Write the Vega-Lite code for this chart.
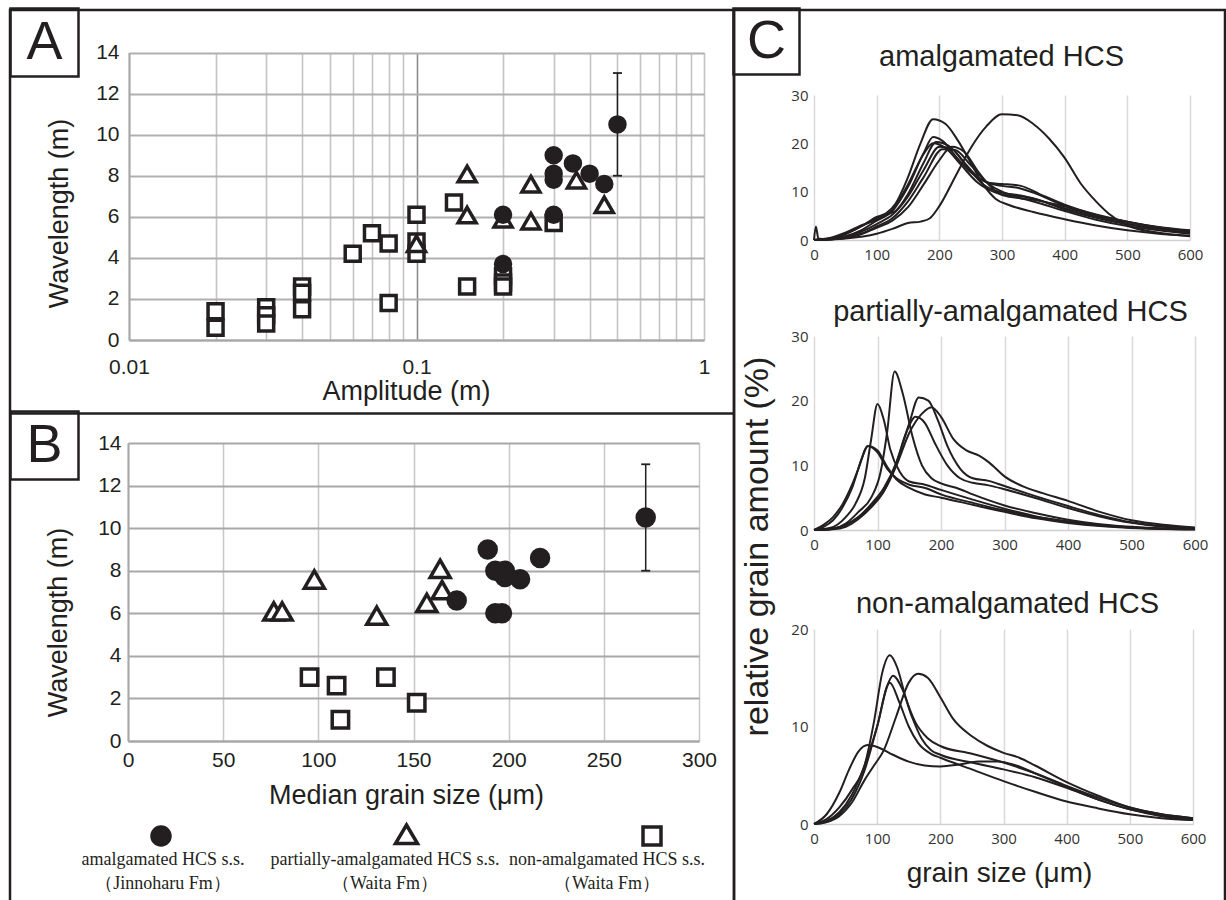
{
  "$schema": "https://vega.github.io/schema/vega-lite/v6.json",
  "background": "white",
  "padding": {"left": 3, "top": 5, "right": 0, "bottom": 0},
  "spacing": 0,
  "bounds": "flush",
  "resolve": {"scale": {"shape": "independent", "fill": "independent"}},
  "config": {
    "view": {"stroke": "#231f20", "strokeWidth": 2.5},
    "font": "Liberation Sans",
    "axis": {"labelFont": "Liberation Sans", "titleFont": "Liberation Sans", "titleFontWeight": "normal", "labelColor": "#231f20", "titleColor": "#231f20", "ticks": false, "labelFlush": false, "labelOverlap": false, "labelBound": false, "grid": false, "domain": false}
  },
  "datasets": {
    "ptsA": [
      {"amp":0.02,"wl":1.4,"type":"non"},{"amp":0.02,"wl":0.6,"type":"non"},{"amp":0.03,"wl":1.6,"type":"non"},{"amp":0.03,"wl":1.2,"type":"non"},{"amp":0.03,"wl":0.8,"type":"non"},{"amp":0.04,"wl":2.6,"type":"non"},{"amp":0.04,"wl":2.3,"type":"non"},{"amp":0.04,"wl":1.5,"type":"non"},{"amp":0.06,"wl":4.2,"type":"non"},{"amp":0.07,"wl":5.2,"type":"non"},{"amp":0.08,"wl":4.7,"type":"non"},{"amp":0.08,"wl":1.8,"type":"non"},{"amp":0.1,"wl":6.1,"type":"non"},{"amp":0.1,"wl":4.8,"type":"non"},{"amp":0.1,"wl":4.2,"type":"non"},{"amp":0.135,"wl":6.7,"type":"non"},{"amp":0.15,"wl":2.6,"type":"non"},{"amp":0.2,"wl":3.1,"type":"non"},{"amp":0.2,"wl":2.8,"type":"non"},{"amp":0.2,"wl":2.6,"type":"non"},{"amp":0.3,"wl":5.7,"type":"non"},
      {"amp":0.1,"wl":4.6,"type":"partially"},{"amp":0.15,"wl":8.0,"type":"partially"},{"amp":0.15,"wl":6.0,"type":"partially"},{"amp":0.2,"wl":5.8,"type":"partially"},{"amp":0.25,"wl":7.5,"type":"partially"},{"amp":0.25,"wl":5.7,"type":"partially"},{"amp":0.36,"wl":7.7,"type":"partially"},{"amp":0.45,"wl":6.5,"type":"partially"},
      {"amp":0.2,"wl":6.1,"type":"amalgamated"},{"amp":0.2,"wl":3.7,"type":"amalgamated"},{"amp":0.3,"wl":9.0,"type":"amalgamated"},{"amp":0.3,"wl":8.1,"type":"amalgamated"},{"amp":0.3,"wl":7.8,"type":"amalgamated"},{"amp":0.3,"wl":6.1,"type":"amalgamated"},{"amp":0.35,"wl":8.6,"type":"amalgamated"},{"amp":0.4,"wl":8.1,"type":"amalgamated"},{"amp":0.45,"wl":7.6,"type":"amalgamated"},{"amp":0.5,"wl":10.5,"type":"amalgamated"}
    ],
    "ptsB": [
      {"gs":95.4,"wl":3.0,"type":"non"},{"gs":109.6,"wl":2.6,"type":"non"},{"gs":111.6,"wl":1.0,"type":"non"},{"gs":135.5,"wl":3.0,"type":"non"},{"gs":151.7,"wl":1.8,"type":"non"},
      {"gs":76.6,"wl":6.0,"type":"partially"},{"gs":81,"wl":6.0,"type":"partially"},{"gs":97.9,"wl":7.5,"type":"partially"},{"gs":130.7,"wl":5.8,"type":"partially"},{"gs":157,"wl":6.4,"type":"partially"},{"gs":164,"wl":8.0,"type":"partially"},{"gs":165,"wl":7.0,"type":"partially"},
      {"gs":172.7,"wl":6.6,"type":"amalgamated"},{"gs":189,"wl":9.0,"type":"amalgamated"},{"gs":193,"wl":8.0,"type":"amalgamated"},{"gs":198,"wl":8.0,"type":"amalgamated"},{"gs":198,"wl":7.7,"type":"amalgamated"},{"gs":206,"wl":7.6,"type":"amalgamated"},{"gs":216.5,"wl":8.6,"type":"amalgamated"},{"gs":193,"wl":6.0,"type":"amalgamated"},{"gs":196.5,"wl":6.0,"type":"amalgamated"},{"gs":272,"wl":10.5,"type":"amalgamated"}
    ],
    "errA": [{"amp": 0.5, "lo": 8, "hi": 13}],
    "errB": [{"gs": 272, "lo": 8, "hi": 13}],
    "legend": [
      {"type":"amalgamated","label":"amalgamated HCS s.s.\n（Jinnoharu Fm）"},
      {"type":"partially","label":"partially-amalgamated HCS s.s.\n（Waita Fm）"},
      {"type":"non","label":"non-amalgamated HCS s.s.\n（Waita Fm）"}
    ],
    "curves": [
      {"p":"C1","id":"a","x":0,"y":0},{"p":"C1","id":"a","x":50,"y":0.3},{"p":"C1","id":"a","x":100,"y":1.3},{"p":"C1","id":"a","x":125,"y":2.3},{"p":"C1","id":"a","x":150,"y":3.5},{"p":"C1","id":"a","x":170,"y":3.8},{"p":"C1","id":"a","x":185,"y":4.5},{"p":"C1","id":"a","x":200,"y":7},{"p":"C1","id":"a","x":225,"y":13},{"p":"C1","id":"a","x":250,"y":19},{"p":"C1","id":"a","x":275,"y":23.5},{"p":"C1","id":"a","x":300,"y":26},{"p":"C1","id":"a","x":325,"y":25.8},{"p":"C1","id":"a","x":350,"y":24},{"p":"C1","id":"a","x":375,"y":21},{"p":"C1","id":"a","x":400,"y":17},{"p":"C1","id":"a","x":425,"y":11.8},{"p":"C1","id":"a","x":450,"y":8},{"p":"C1","id":"a","x":470,"y":5.5},{"p":"C1","id":"a","x":500,"y":3},{"p":"C1","id":"a","x":550,"y":1.5},{"p":"C1","id":"a","x":600,"y":0.8},
      {"p":"C1","id":"b","x":0,"y":0},{"p":"C1","id":"b","x":25,"y":0.3},{"p":"C1","id":"b","x":50,"y":1.2},{"p":"C1","id":"b","x":75,"y":2.8},{"p":"C1","id":"b","x":100,"y":4.8},{"p":"C1","id":"b","x":115,"y":5.5},{"p":"C1","id":"b","x":130,"y":7.5},{"p":"C1","id":"b","x":150,"y":13},{"p":"C1","id":"b","x":170,"y":20},{"p":"C1","id":"b","x":190,"y":25},{"p":"C1","id":"b","x":210,"y":24},{"p":"C1","id":"b","x":230,"y":20.5},{"p":"C1","id":"b","x":250,"y":16},{"p":"C1","id":"b","x":270,"y":11.5},{"p":"C1","id":"b","x":290,"y":8.5},{"p":"C1","id":"b","x":310,"y":7.3},{"p":"C1","id":"b","x":350,"y":5.8},{"p":"C1","id":"b","x":400,"y":4.3},{"p":"C1","id":"b","x":450,"y":3},{"p":"C1","id":"b","x":500,"y":2},{"p":"C1","id":"b","x":550,"y":1.3},{"p":"C1","id":"b","x":600,"y":0.9},
      {"p":"C1","id":"c","x":0,"y":0},{"p":"C1","id":"c","x":25,"y":0.2},{"p":"C1","id":"c","x":50,"y":0.8},{"p":"C1","id":"c","x":75,"y":2},{"p":"C1","id":"c","x":100,"y":4},{"p":"C1","id":"c","x":125,"y":6},{"p":"C1","id":"c","x":150,"y":11},{"p":"C1","id":"c","x":175,"y":18},{"p":"C1","id":"c","x":190,"y":21.3},{"p":"C1","id":"c","x":205,"y":20.5},{"p":"C1","id":"c","x":225,"y":17.5},{"p":"C1","id":"c","x":250,"y":14},{"p":"C1","id":"c","x":275,"y":12},{"p":"C1","id":"c","x":300,"y":11.2},{"p":"C1","id":"c","x":325,"y":10.8},{"p":"C1","id":"c","x":350,"y":9.8},{"p":"C1","id":"c","x":400,"y":7},{"p":"C1","id":"c","x":450,"y":4.8},{"p":"C1","id":"c","x":500,"y":3.3},{"p":"C1","id":"c","x":550,"y":2.2},{"p":"C1","id":"c","x":600,"y":1.4},
      {"p":"C1","id":"d","x":0,"y":0},{"p":"C1","id":"d","x":25,"y":0.3},{"p":"C1","id":"d","x":50,"y":1.3},{"p":"C1","id":"d","x":75,"y":2.8},{"p":"C1","id":"d","x":100,"y":4.5},{"p":"C1","id":"d","x":115,"y":5.3},{"p":"C1","id":"d","x":130,"y":6},{"p":"C1","id":"d","x":150,"y":9.5},{"p":"C1","id":"d","x":175,"y":16},{"p":"C1","id":"d","x":195,"y":20.3},{"p":"C1","id":"d","x":215,"y":19.5},{"p":"C1","id":"d","x":240,"y":16},{"p":"C1","id":"d","x":260,"y":13.2},{"p":"C1","id":"d","x":280,"y":11.8},{"p":"C1","id":"d","x":300,"y":11.6},{"p":"C1","id":"d","x":330,"y":11.2},{"p":"C1","id":"d","x":360,"y":9.5},{"p":"C1","id":"d","x":400,"y":7.3},{"p":"C1","id":"d","x":450,"y":5.2},{"p":"C1","id":"d","x":500,"y":3.8},{"p":"C1","id":"d","x":550,"y":2.6},{"p":"C1","id":"d","x":600,"y":1.8},
      {"p":"C1","id":"e","x":0,"y":0},{"p":"C1","id":"e","x":25,"y":0.1},{"p":"C1","id":"e","x":50,"y":0.6},{"p":"C1","id":"e","x":75,"y":1.7},{"p":"C1","id":"e","x":100,"y":3.3},{"p":"C1","id":"e","x":125,"y":5.2},{"p":"C1","id":"e","x":150,"y":9},{"p":"C1","id":"e","x":175,"y":14.5},{"p":"C1","id":"e","x":200,"y":19.3},{"p":"C1","id":"e","x":220,"y":18.8},{"p":"C1","id":"e","x":245,"y":15},{"p":"C1","id":"e","x":270,"y":11.5},{"p":"C1","id":"e","x":300,"y":9.8},{"p":"C1","id":"e","x":330,"y":9.2},{"p":"C1","id":"e","x":360,"y":8.2},{"p":"C1","id":"e","x":400,"y":6.3},{"p":"C1","id":"e","x":450,"y":4.6},{"p":"C1","id":"e","x":500,"y":3.3},{"p":"C1","id":"e","x":550,"y":2.3},{"p":"C1","id":"e","x":600,"y":1.6},
      {"p":"C1","id":"f","x":0,"y":0},{"p":"C1","id":"f","x":50,"y":0.4},{"p":"C1","id":"f","x":75,"y":1.3},{"p":"C1","id":"f","x":100,"y":2.8},{"p":"C1","id":"f","x":125,"y":4.5},{"p":"C1","id":"f","x":150,"y":8},{"p":"C1","id":"f","x":175,"y":13},{"p":"C1","id":"f","x":205,"y":18.8},{"p":"C1","id":"f","x":225,"y":18.6},{"p":"C1","id":"f","x":250,"y":15.5},{"p":"C1","id":"f","x":275,"y":12},{"p":"C1","id":"f","x":300,"y":10},{"p":"C1","id":"f","x":350,"y":8.6},{"p":"C1","id":"f","x":400,"y":6.6},{"p":"C1","id":"f","x":450,"y":5},{"p":"C1","id":"f","x":500,"y":3.7},{"p":"C1","id":"f","x":550,"y":2.6},{"p":"C1","id":"f","x":600,"y":1.9},
      {"p":"C1","id":"g","x":0,"y":0},{"p":"C1","id":"g","x":3,"y":2.8},{"p":"C1","id":"g","x":7,"y":0.3},{"p":"C1","id":"g","x":25,"y":0.1},{"p":"C1","id":"g","x":50,"y":0.4},{"p":"C1","id":"g","x":75,"y":1.2},{"p":"C1","id":"g","x":100,"y":2.5},{"p":"C1","id":"g","x":125,"y":4},{"p":"C1","id":"g","x":150,"y":6.8},{"p":"C1","id":"g","x":175,"y":11.5},{"p":"C1","id":"g","x":200,"y":16.5},{"p":"C1","id":"g","x":220,"y":19.3},{"p":"C1","id":"g","x":240,"y":18.2},{"p":"C1","id":"g","x":260,"y":14.5},{"p":"C1","id":"g","x":280,"y":11.3},{"p":"C1","id":"g","x":300,"y":9.3},{"p":"C1","id":"g","x":350,"y":8.3},{"p":"C1","id":"g","x":400,"y":7},{"p":"C1","id":"g","x":450,"y":5.3},{"p":"C1","id":"g","x":500,"y":3.8},{"p":"C1","id":"g","x":550,"y":2.7},{"p":"C1","id":"g","x":600,"y":2},
      {"p":"C1","id":"h","x":0,"y":0},{"p":"C1","id":"h","x":25,"y":0.4},{"p":"C1","id":"h","x":50,"y":1.5},{"p":"C1","id":"h","x":75,"y":3},{"p":"C1","id":"h","x":100,"y":4.2},{"p":"C1","id":"h","x":125,"y":6.3},{"p":"C1","id":"h","x":150,"y":11.5},{"p":"C1","id":"h","x":175,"y":17.8},{"p":"C1","id":"h","x":190,"y":20},{"p":"C1","id":"h","x":210,"y":19},{"p":"C1","id":"h","x":235,"y":15.5},{"p":"C1","id":"h","x":260,"y":12},{"p":"C1","id":"h","x":290,"y":9.8},{"p":"C1","id":"h","x":320,"y":9},{"p":"C1","id":"h","x":360,"y":7.6},{"p":"C1","id":"h","x":400,"y":6},{"p":"C1","id":"h","x":450,"y":4.2},{"p":"C1","id":"h","x":500,"y":2.9},{"p":"C1","id":"h","x":550,"y":2},{"p":"C1","id":"h","x":600,"y":1.3},
      {"p":"C2","id":"a","x":0,"y":0},{"p":"C2","id":"a","x":15,"y":0.8},{"p":"C2","id":"a","x":30,"y":2},{"p":"C2","id":"a","x":45,"y":4},{"p":"C2","id":"a","x":60,"y":7},{"p":"C2","id":"a","x":70,"y":9.5},{"p":"C2","id":"a","x":85,"y":13},{"p":"C2","id":"a","x":100,"y":12},{"p":"C2","id":"a","x":115,"y":9.5},{"p":"C2","id":"a","x":130,"y":8},{"p":"C2","id":"a","x":150,"y":7},{"p":"C2","id":"a","x":175,"y":6.5},{"p":"C2","id":"a","x":200,"y":5.5},{"p":"C2","id":"a","x":250,"y":4.2},{"p":"C2","id":"a","x":300,"y":3},{"p":"C2","id":"a","x":350,"y":2},{"p":"C2","id":"a","x":400,"y":1.3},{"p":"C2","id":"a","x":450,"y":0.8},{"p":"C2","id":"a","x":500,"y":0.4},{"p":"C2","id":"a","x":550,"y":0.2},{"p":"C2","id":"a","x":600,"y":0.1},
      {"p":"C2","id":"b","x":0,"y":0},{"p":"C2","id":"b","x":15,"y":0.5},{"p":"C2","id":"b","x":30,"y":1.5},{"p":"C2","id":"b","x":45,"y":3.5},{"p":"C2","id":"b","x":60,"y":6.5},{"p":"C2","id":"b","x":75,"y":11},{"p":"C2","id":"b","x":85,"y":13},{"p":"C2","id":"b","x":100,"y":12.3},{"p":"C2","id":"b","x":115,"y":9.8},{"p":"C2","id":"b","x":130,"y":7.8},{"p":"C2","id":"b","x":150,"y":6.5},{"p":"C2","id":"b","x":175,"y":5.5},{"p":"C2","id":"b","x":200,"y":5},{"p":"C2","id":"b","x":250,"y":3.9},{"p":"C2","id":"b","x":300,"y":2.8},{"p":"C2","id":"b","x":350,"y":1.8},{"p":"C2","id":"b","x":400,"y":1.1},{"p":"C2","id":"b","x":450,"y":0.6},{"p":"C2","id":"b","x":500,"y":0.3},{"p":"C2","id":"b","x":550,"y":0.15},{"p":"C2","id":"b","x":600,"y":0.1},
      {"p":"C2","id":"c","x":0,"y":0},{"p":"C2","id":"c","x":25,"y":0.3},{"p":"C2","id":"c","x":50,"y":2},{"p":"C2","id":"c","x":65,"y":4},{"p":"C2","id":"c","x":80,"y":8},{"p":"C2","id":"c","x":90,"y":14},{"p":"C2","id":"c","x":100,"y":19.5},{"p":"C2","id":"c","x":110,"y":17},{"p":"C2","id":"c","x":120,"y":12.5},{"p":"C2","id":"c","x":135,"y":9},{"p":"C2","id":"c","x":150,"y":7.5},{"p":"C2","id":"c","x":175,"y":7},{"p":"C2","id":"c","x":200,"y":6.2},{"p":"C2","id":"c","x":250,"y":4.7},{"p":"C2","id":"c","x":300,"y":3.3},{"p":"C2","id":"c","x":350,"y":2.1},{"p":"C2","id":"c","x":400,"y":1.3},{"p":"C2","id":"c","x":450,"y":0.7},{"p":"C2","id":"c","x":500,"y":0.4},{"p":"C2","id":"c","x":600,"y":0.1},
      {"p":"C2","id":"d","x":0,"y":0},{"p":"C2","id":"d","x":30,"y":0.2},{"p":"C2","id":"d","x":50,"y":1},{"p":"C2","id":"d","x":70,"y":2.8},{"p":"C2","id":"d","x":90,"y":5},{"p":"C2","id":"d","x":105,"y":9},{"p":"C2","id":"d","x":115,"y":15},{"p":"C2","id":"d","x":127,"y":24.5},{"p":"C2","id":"d","x":140,"y":21},{"p":"C2","id":"d","x":155,"y":14.5},{"p":"C2","id":"d","x":170,"y":10},{"p":"C2","id":"d","x":185,"y":8},{"p":"C2","id":"d","x":200,"y":7.2},{"p":"C2","id":"d","x":225,"y":6.5},{"p":"C2","id":"d","x":250,"y":5.5},{"p":"C2","id":"d","x":300,"y":3.8},{"p":"C2","id":"d","x":350,"y":2.6},{"p":"C2","id":"d","x":400,"y":1.6},{"p":"C2","id":"d","x":450,"y":0.9},{"p":"C2","id":"d","x":500,"y":0.5},{"p":"C2","id":"d","x":550,"y":0.25},{"p":"C2","id":"d","x":600,"y":0.15},
      {"p":"C2","id":"e","x":0,"y":0},{"p":"C2","id":"e","x":30,"y":0.2},{"p":"C2","id":"e","x":50,"y":0.8},{"p":"C2","id":"e","x":70,"y":2},{"p":"C2","id":"e","x":90,"y":4},{"p":"C2","id":"e","x":110,"y":6.5},{"p":"C2","id":"e","x":130,"y":10.5},{"p":"C2","id":"e","x":150,"y":16.5},{"p":"C2","id":"e","x":165,"y":20.5},{"p":"C2","id":"e","x":180,"y":20},{"p":"C2","id":"e","x":195,"y":17},{"p":"C2","id":"e","x":210,"y":13},{"p":"C2","id":"e","x":230,"y":9.5},{"p":"C2","id":"e","x":250,"y":8},{"p":"C2","id":"e","x":275,"y":7.6},{"p":"C2","id":"e","x":300,"y":6.8},{"p":"C2","id":"e","x":350,"y":5.2},{"p":"C2","id":"e","x":400,"y":3.7},{"p":"C2","id":"e","x":450,"y":2.3},{"p":"C2","id":"e","x":500,"y":1.2},{"p":"C2","id":"e","x":550,"y":0.6},{"p":"C2","id":"e","x":600,"y":0.3},
      {"p":"C2","id":"f","x":0,"y":0},{"p":"C2","id":"f","x":30,"y":0.2},{"p":"C2","id":"f","x":50,"y":0.8},{"p":"C2","id":"f","x":70,"y":2},{"p":"C2","id":"f","x":90,"y":3.8},{"p":"C2","id":"f","x":110,"y":6},{"p":"C2","id":"f","x":130,"y":10},{"p":"C2","id":"f","x":150,"y":15},{"p":"C2","id":"f","x":170,"y":18},{"p":"C2","id":"f","x":185,"y":19},{"p":"C2","id":"f","x":200,"y":17.5},{"p":"C2","id":"f","x":220,"y":14},{"p":"C2","id":"f","x":240,"y":12.3},{"p":"C2","id":"f","x":260,"y":11.5},{"p":"C2","id":"f","x":275,"y":10.5},{"p":"C2","id":"f","x":300,"y":8.3},{"p":"C2","id":"f","x":330,"y":6.7},{"p":"C2","id":"f","x":360,"y":5.7},{"p":"C2","id":"f","x":400,"y":4.5},{"p":"C2","id":"f","x":450,"y":2.8},{"p":"C2","id":"f","x":500,"y":1.5},{"p":"C2","id":"f","x":550,"y":0.8},{"p":"C2","id":"f","x":600,"y":0.4},
      {"p":"C2","id":"g","x":0,"y":0},{"p":"C2","id":"g","x":30,"y":0.1},{"p":"C2","id":"g","x":50,"y":0.5},{"p":"C2","id":"g","x":70,"y":1.7},{"p":"C2","id":"g","x":90,"y":3.5},{"p":"C2","id":"g","x":110,"y":6},{"p":"C2","id":"g","x":130,"y":10.5},{"p":"C2","id":"g","x":145,"y":15},{"p":"C2","id":"g","x":160,"y":17.5},{"p":"C2","id":"g","x":175,"y":16.5},{"p":"C2","id":"g","x":190,"y":13.5},{"p":"C2","id":"g","x":210,"y":10},{"p":"C2","id":"g","x":230,"y":8},{"p":"C2","id":"g","x":250,"y":7.3},{"p":"C2","id":"g","x":275,"y":6.9},{"p":"C2","id":"g","x":300,"y":6.3},{"p":"C2","id":"g","x":350,"y":4.9},{"p":"C2","id":"g","x":400,"y":3.4},{"p":"C2","id":"g","x":450,"y":2.1},{"p":"C2","id":"g","x":500,"y":1.1},{"p":"C2","id":"g","x":550,"y":0.5},{"p":"C2","id":"g","x":600,"y":0.3},
      {"p":"C3","id":"a","x":0,"y":0},{"p":"C3","id":"a","x":20,"y":0.5},{"p":"C3","id":"a","x":40,"y":1.7},{"p":"C3","id":"a","x":60,"y":3.5},{"p":"C3","id":"a","x":80,"y":6},{"p":"C3","id":"a","x":95,"y":10.5},{"p":"C3","id":"a","x":108,"y":15.5},{"p":"C3","id":"a","x":120,"y":17.3},{"p":"C3","id":"a","x":132,"y":16},{"p":"C3","id":"a","x":145,"y":13},{"p":"C3","id":"a","x":160,"y":10.5},{"p":"C3","id":"a","x":180,"y":8.8},{"p":"C3","id":"a","x":200,"y":8},{"p":"C3","id":"a","x":250,"y":7.2},{"p":"C3","id":"a","x":300,"y":6.3},{"p":"C3","id":"a","x":350,"y":5.2},{"p":"C3","id":"a","x":400,"y":3.9},{"p":"C3","id":"a","x":450,"y":2.7},{"p":"C3","id":"a","x":500,"y":1.7},{"p":"C3","id":"a","x":550,"y":1},{"p":"C3","id":"a","x":600,"y":0.6},
      {"p":"C3","id":"b","x":0,"y":0},{"p":"C3","id":"b","x":20,"y":0.3},{"p":"C3","id":"b","x":40,"y":1.2},{"p":"C3","id":"b","x":60,"y":3},{"p":"C3","id":"b","x":80,"y":6},{"p":"C3","id":"b","x":100,"y":10},{"p":"C3","id":"b","x":115,"y":14},{"p":"C3","id":"b","x":125,"y":15.2},{"p":"C3","id":"b","x":140,"y":13.8},{"p":"C3","id":"b","x":155,"y":11},{"p":"C3","id":"b","x":170,"y":8.8},{"p":"C3","id":"b","x":185,"y":7.6},{"p":"C3","id":"b","x":200,"y":7.1},{"p":"C3","id":"b","x":250,"y":6.3},{"p":"C3","id":"b","x":300,"y":5.6},{"p":"C3","id":"b","x":350,"y":4.8},{"p":"C3","id":"b","x":400,"y":3.7},{"p":"C3","id":"b","x":450,"y":2.5},{"p":"C3","id":"b","x":500,"y":1.5},{"p":"C3","id":"b","x":550,"y":0.9},{"p":"C3","id":"b","x":600,"y":0.5},
      {"p":"C3","id":"c","x":0,"y":0},{"p":"C3","id":"c","x":20,"y":0.2},{"p":"C3","id":"c","x":40,"y":1},{"p":"C3","id":"c","x":60,"y":2.6},{"p":"C3","id":"c","x":80,"y":5.5},{"p":"C3","id":"c","x":100,"y":10},{"p":"C3","id":"c","x":120,"y":14.5},{"p":"C3","id":"c","x":135,"y":12.5},{"p":"C3","id":"c","x":150,"y":10},{"p":"C3","id":"c","x":165,"y":8.3},{"p":"C3","id":"c","x":185,"y":7.2},{"p":"C3","id":"c","x":200,"y":6.8},{"p":"C3","id":"c","x":250,"y":5.6},{"p":"C3","id":"c","x":300,"y":4.4},{"p":"C3","id":"c","x":350,"y":3.3},{"p":"C3","id":"c","x":400,"y":2.3},{"p":"C3","id":"c","x":450,"y":1.6},{"p":"C3","id":"c","x":500,"y":1},{"p":"C3","id":"c","x":550,"y":0.6},{"p":"C3","id":"c","x":600,"y":0.4},
      {"p":"C3","id":"d","x":0,"y":0},{"p":"C3","id":"d","x":20,"y":0.2},{"p":"C3","id":"d","x":40,"y":0.8},{"p":"C3","id":"d","x":60,"y":2.2},{"p":"C3","id":"d","x":80,"y":4.5},{"p":"C3","id":"d","x":95,"y":6},{"p":"C3","id":"d","x":110,"y":7.5},{"p":"C3","id":"d","x":130,"y":11},{"p":"C3","id":"d","x":150,"y":14.5},{"p":"C3","id":"d","x":165,"y":15.4},{"p":"C3","id":"d","x":180,"y":15},{"p":"C3","id":"d","x":200,"y":13},{"p":"C3","id":"d","x":220,"y":10.8},{"p":"C3","id":"d","x":250,"y":9},{"p":"C3","id":"d","x":275,"y":8},{"p":"C3","id":"d","x":300,"y":7.3},{"p":"C3","id":"d","x":325,"y":6.8},{"p":"C3","id":"d","x":350,"y":6},{"p":"C3","id":"d","x":400,"y":4.3},{"p":"C3","id":"d","x":450,"y":2.9},{"p":"C3","id":"d","x":500,"y":1.7},{"p":"C3","id":"d","x":550,"y":1},{"p":"C3","id":"d","x":600,"y":0.6},
      {"p":"C3","id":"e","x":0,"y":0},{"p":"C3","id":"e","x":20,"y":1},{"p":"C3","id":"e","x":40,"y":3.2},{"p":"C3","id":"e","x":55,"y":5.5},{"p":"C3","id":"e","x":70,"y":7.4},{"p":"C3","id":"e","x":85,"y":8.1},{"p":"C3","id":"e","x":100,"y":7.9},{"p":"C3","id":"e","x":125,"y":7.1},{"p":"C3","id":"e","x":150,"y":6.4},{"p":"C3","id":"e","x":175,"y":6},{"p":"C3","id":"e","x":200,"y":5.9},{"p":"C3","id":"e","x":230,"y":6.1},{"p":"C3","id":"e","x":260,"y":6.4},{"p":"C3","id":"e","x":290,"y":6.4},{"p":"C3","id":"e","x":320,"y":6},{"p":"C3","id":"e","x":350,"y":5.2},{"p":"C3","id":"e","x":400,"y":3.8},{"p":"C3","id":"e","x":450,"y":2.5},{"p":"C3","id":"e","x":500,"y":1.5},{"p":"C3","id":"e","x":550,"y":0.8},{"p":"C3","id":"e","x":600,"y":0.4}
    ]
  },
  "hconcat": [
    {
      "width": 724, "height": 903,
      "resolve": {"scale": {"x": "independent", "y": "independent", "shape": "independent", "fill": "independent"}},
      "layer": [
        {
          "data": {"name": "ptsA"},
          "mark": {"type": "point", "filled": true, "opacity": 1, "stroke": "#231f20", "strokeWidth": 3.5, "size": 400},
          "encoding": {
            "x": {"field": "amp", "type": "quantitative", "scale": {"type": "log", "domain": [0.01, 1], "range": [119, 694], "nice": false},
              "axis": {"orient": "top", "offset": -330, "values": [0.01,0.02,0.03,0.04,0.05,0.06,0.07,0.08,0.09,0.1,0.2,0.3,0.4,0.5,0.6,0.7,0.8,0.9,1],
                "labelExpr": "datum.value === 0.01 ? '0.01' : datum.value === 0.1 ? '0.1' : datum.value === 1 ? '1' : ''",
                "grid": true, "gridColor": {"condition": {"test": "datum.value === 0.1", "value": "#8c8c8c"}, "value": "#c4c4c4"}, "gridWidth": 1.6,
                "domain": true, "domainColor": "#a8a8a8", "domainWidth": 2, "labelFontSize": 21, "labelPadding": -16, "labelBaseline": "top",
                "title": "Amplitude (m)", "titleFontSize": 27, "titleX": 396, "titleY": 59, "titleAlign": "center", "titleBaseline": "alphabetic", "titleAngle": 0}},
            "y": {"field": "wl", "type": "quantitative", "scale": {"domain": [0, 14], "range": [330, 42.5], "nice": false, "zero": false},
              "axis": {"orient": "left", "offset": -119, "values": [0,2,4,6,8,10,12,14], "grid": true, "gridColor": "#b0b0b0", "gridWidth": 1.8,
                "domain": true, "domainColor": "#a8a8a8", "domainWidth": 2, "labelFontSize": 21, "labelPadding": 10,
                "title": "Wavelength (m)", "titleFontSize": 27, "titleX": -62, "titleY": 203, "titleAngle": 270, "titleAlign": "center", "titleBaseline": "alphabetic"}},
            "shape": {"field": "type", "type": "nominal", "scale": {"domain": ["amalgamated","partially","non"], "range": ["M-0.75,0A0.75,0.75,0,1,1,0.75,0A0.75,0.75,0,1,1,-0.75,0Z", "M0,-0.95L0.9,0.6L-0.9,0.6Z", "M-0.75,-0.75H0.75V0.75H-0.75Z"]}, "legend": null},
            "fill": {"field": "type", "type": "nominal", "scale": {"domain": ["amalgamated","partially","non"], "range": ["#231f20","white","white"]}, "legend": null}
          }
        },
        {
          "data": {"name": "errA"},
          "mark": {"type": "rule", "color": "#231f20", "strokeWidth": 1.5},
          "encoding": {
            "x": {"field": "amp", "type": "quantitative", "scale": {"type": "log", "domain": [0.01, 1], "range": [119, 694], "nice": false}, "axis": null},
            "y": {"field": "lo", "type": "quantitative", "scale": {"domain": [0, 14], "range": [330, 42.5], "nice": false, "zero": false}, "axis": null},
            "y2": {"field": "hi"}
          }
        },
        {
          "data": {"name": "errA"},
          "mark": {"type": "tick", "orient": "horizontal", "size": 9, "thickness": 1.8, "color": "#231f20", "opacity": 1},
          "encoding": {
            "x": {"field": "amp", "type": "quantitative", "scale": {"type": "log", "domain": [0.01, 1], "range": [119, 694], "nice": false}, "axis": null},
            "y": {"field": "lo", "type": "quantitative", "scale": {"domain": [0, 14], "range": [330, 42.5], "nice": false, "zero": false}, "axis": null}
          }
        },
        {
          "data": {"name": "errA"},
          "mark": {"type": "tick", "orient": "horizontal", "size": 9, "thickness": 1.8, "color": "#231f20", "opacity": 1},
          "encoding": {
            "x": {"field": "amp", "type": "quantitative", "scale": {"type": "log", "domain": [0.01, 1], "range": [119, 694], "nice": false}, "axis": null},
            "y": {"field": "hi", "type": "quantitative", "scale": {"domain": [0, 14], "range": [330, 42.5], "nice": false, "zero": false}, "axis": null}
          }
        },
        {
          "data": {"name": "ptsB"},
          "mark": {"type": "point", "filled": true, "opacity": 1, "stroke": "#231f20", "strokeWidth": 3.5, "size": 400},
          "encoding": {
            "x": {"field": "gs", "type": "quantitative", "scale": {"domain": [0, 300], "range": [118, 689], "nice": false, "zero": false},
              "axis": {"orient": "top", "offset": -731, "values": [0,50,100,150,200,250,300], "grid": true, "gridColor": "#c8c8c8", "gridWidth": 1.5,
                "domain": true, "domainColor": "#a8a8a8", "domainWidth": 2, "labelFontSize": 21, "labelPadding": -8, "labelBaseline": "top",
                "title": "Median grain size (μm)", "titleFontSize": 27, "titleX": 396, "titleY": 62, "titleAlign": "center", "titleBaseline": "alphabetic", "titleAngle": 0}},
            "y": {"field": "wl", "type": "quantitative", "scale": {"domain": [0, 14], "range": [731, 433], "nice": false, "zero": false},
              "axis": {"orient": "left", "offset": -118, "values": [0,2,4,6,8,10,12,14], "grid": true, "gridColor": "#a8a8a8", "gridWidth": 2,
                "domain": true, "domainColor": "#a8a8a8", "domainWidth": 2, "labelFontSize": 21, "labelPadding": 7,
                "title": "Wavelength (m)", "titleFontSize": 27, "titleX": -62, "titleY": 612, "titleAngle": 270, "titleAlign": "center", "titleBaseline": "alphabetic"}},
            "shape": {"field": "type", "type": "nominal", "scale": {"domain": ["amalgamated","partially","non"], "range": ["M-0.85,0A0.85,0.85,0,1,1,0.85,0A0.85,0.85,0,1,1,-0.85,0Z", "M0,-1.05L1,0.68L-1,0.68Z", "M-0.82,-0.82H0.82V0.82H-0.82Z"]}, "legend": null},
            "fill": {"field": "type", "type": "nominal", "scale": {"domain": ["amalgamated","partially","non"], "range": ["#231f20","white","white"]}, "legend": null}
          }
        },
        {
          "data": {"name": "errB"},
          "mark": {"type": "rule", "color": "#231f20", "strokeWidth": 1.5},
          "encoding": {
            "x": {"field": "gs", "type": "quantitative", "scale": {"domain": [0, 300], "range": [118, 689], "nice": false, "zero": false}, "axis": null},
            "y": {"field": "lo", "type": "quantitative", "scale": {"domain": [0, 14], "range": [731, 433], "nice": false, "zero": false}, "axis": null},
            "y2": {"field": "hi"}
          }
        },
        {
          "data": {"name": "errB"},
          "mark": {"type": "tick", "orient": "horizontal", "size": 9, "thickness": 1.8, "color": "#231f20", "opacity": 1},
          "encoding": {
            "x": {"field": "gs", "type": "quantitative", "scale": {"domain": [0, 300], "range": [118, 689], "nice": false, "zero": false}, "axis": null},
            "y": {"field": "lo", "type": "quantitative", "scale": {"domain": [0, 14], "range": [731, 433], "nice": false, "zero": false}, "axis": null}
          }
        },
        {
          "data": {"name": "errB"},
          "mark": {"type": "tick", "orient": "horizontal", "size": 9, "thickness": 1.8, "color": "#231f20", "opacity": 1},
          "encoding": {
            "x": {"field": "gs", "type": "quantitative", "scale": {"domain": [0, 300], "range": [118, 689], "nice": false, "zero": false}, "axis": null},
            "y": {"field": "hi", "type": "quantitative", "scale": {"domain": [0, 14], "range": [731, 433], "nice": false, "zero": false}, "axis": null}
          }
        },
        {
          "data": {"name": "legend"},
          "mark": {"type": "point", "filled": true, "opacity": 1, "stroke": "#231f20", "strokeWidth": 3.5, "size": 400},
          "encoding": {
            "x": {"field": "type", "type": "nominal", "sort": null, "scale": {"type": "point", "domain": ["amalgamated","partially","non"], "range": [151, 642], "padding": 0}, "axis": null},
            "y": {"datum": "sym", "type": "nominal", "scale": {"type": "point", "domain": ["sym","txt"], "range": [826, 855], "padding": 0}, "axis": null},
            "shape": {"field": "type", "type": "nominal", "scale": {"domain": ["amalgamated","partially","non"], "range": ["M-0.9,0A0.9,0.9,0,1,1,0.9,0A0.9,0.9,0,1,1,-0.9,0Z", "M0,-1.1L1.1,0.75L-1.1,0.75Z", "M-0.9,-0.9H0.9V0.9H-0.9Z"]}, "legend": null},
            "fill": {"field": "type", "type": "nominal", "scale": {"domain": ["amalgamated","partially","non"], "range": ["#231f20","white","white"]}, "legend": null}
          }
        },
        {
          "data": {"name": "legend"},
          "mark": {"type": "text", "font": "Liberation Serif", "fontSize": 18, "color": "#231f20", "align": "center", "baseline": "alphabetic", "lineBreak": "\n", "lineHeight": 24},
          "encoding": {
            "x": {"field": "type", "type": "nominal", "sort": null, "scale": {"type": "point", "domain": ["amalgamated","partially","non"], "range": [153, 597], "padding": 0}, "axis": null},
            "y": {"datum": "txt", "type": "nominal", "scale": {"type": "point", "domain": ["sym","txt"], "range": [826, 855], "padding": 0}, "axis": null},
            "text": {"field": "label", "type": "nominal"}
          }
        },
        {
          "data": {"values": [{"letter": "A"}]},
          "mark": {"type": "point", "size": 0, "color": "#231f20", "filled": false, "opacity": 1, "strokeWidth": 2.5},
          "encoding": {
            "x": {"datum": 0, "type": "quantitative", "scale": {"domain": [0, 1], "range": [0, 724], "nice": false, "zero": false},
              "axis": {"orient": "top", "offset": -403, "domain": true, "domainColor": "#231f20", "domainWidth": 2.5, "labels": false, "grid": false, "ticks": false, "title": null}},
            "shape": {"field": "letter", "type": "nominal", "scale": {"domain": ["A"], "range": ["square"]},
              "legend": {"orient": "none", "legendX": -1, "legendY": -3, "title": null, "padding": 0, "symbolSize": 4624, "symbolStrokeWidth": 2.5, "symbolStrokeColor": "#231f20", "symbolFillColor": "white", "symbolType": "square", "labelFontSize": 54, "labelFont": "Liberation Sans", "labelColor": "#231f20", "labelAlign": "center", "labelOffset": -35.5, "labelLimit": 0}}
          }
        },
        {
          "data": {"values": [{"letter": "B"}]},
          "mark": {"type": "point", "size": 0, "color": "#231f20", "filled": false, "opacity": 1, "strokeWidth": 2.5},
          "encoding": {
            "shape": {"field": "letter", "type": "nominal", "scale": {"domain": ["B"], "range": ["square"]},
              "legend": {"orient": "none", "legendX": -1, "legendY": 400, "title": null, "padding": 0, "symbolSize": 4624, "symbolStrokeWidth": 2.5, "symbolStrokeColor": "#231f20", "symbolFillColor": "white", "symbolType": "square", "labelFontSize": 54, "labelFont": "Liberation Sans", "labelColor": "#231f20", "labelAlign": "center", "labelOffset": -35.5, "labelLimit": 0}}
          }
        }
      ]
    },
    {
      "width": 491, "height": 903,
      "resolve": {"scale": {"x": "independent", "y": "independent", "shape": "independent"}},
      "layer": [
        {
          "data": {"name": "curves"},
          "transform": [{"filter": "datum.p == 'C1'"}],
          "mark": {"type": "line", "interpolate": "monotone", "color": "#231f20", "strokeWidth": 2},
          "encoding": {
            "x": {"field": "x", "type": "quantitative", "scale": {"domain": [0, 600], "range": [80, 456], "nice": false, "zero": false},
              "axis": {"orient": "top", "offset": -230, "values": [0,100,200,300,400,500,600], "grid": true, "gridColor": "#d9d9d9", "gridWidth": 1.5, "domain": true, "domainColor": "#d0d0d0", "domainWidth": 1.5,
                "labelFont": "Open Sans", "labelFontSize": 15, "labelPadding": -7, "labelBaseline": "top", "labelColor": "#333333",
                "title": "amalgamated HCS", "titleFontSize": 29, "titleX": 267, "titleY": -175, "titleAlign": "center", "titleBaseline": "alphabetic", "titleAngle": 0}},
            "y": {"field": "y", "type": "quantitative", "scale": {"domain": [0, 30], "range": [230, 85], "nice": false, "zero": false},
              "axis": {"orient": "left", "offset": -80, "values": [0,10,20,30], "labelFont": "Open Sans", "labelFontSize": 15, "labelPadding": 6, "labelColor": "#333333", "title": null}},
            "detail": {"field": "id", "type": "nominal"}
          }
        },
        {
          "data": {"name": "curves"},
          "transform": [{"filter": "datum.p == 'C2'"}],
          "mark": {"type": "line", "interpolate": "monotone", "color": "#231f20", "strokeWidth": 2},
          "encoding": {
            "x": {"field": "x", "type": "quantitative", "scale": {"domain": [0, 600], "range": [80, 461], "nice": false, "zero": false},
              "axis": {"orient": "top", "offset": -520, "values": [0,100,200,300,400,500,600], "grid": true, "gridColor": "#d9d9d9", "gridWidth": 1.5, "domain": true, "domainColor": "#d0d0d0", "domainWidth": 1.5,
                "labelFont": "Open Sans", "labelFontSize": 15, "labelPadding": -7, "labelBaseline": "top", "labelColor": "#333333",
                "title": "partially-amalgamated HCS", "titleFontSize": 29, "titleX": 276, "titleY": -210, "titleAlign": "center", "titleBaseline": "alphabetic", "titleAngle": 0}},
            "y": {"field": "y", "type": "quantitative", "scale": {"domain": [0, 30], "range": [520, 326], "nice": false, "zero": false},
              "axis": {"orient": "left", "offset": -80, "values": [0,10,20,30], "labelFont": "Open Sans", "labelFontSize": 15, "labelPadding": 6, "labelColor": "#333333",
                "title": "relative grain amount (%)", "titleFontSize": 34, "titleX": -47, "titleY": 536, "titleAngle": 270, "titleAlign": "center", "titleBaseline": "alphabetic"}},
            "detail": {"field": "id", "type": "nominal"}
          }
        },
        {
          "data": {"name": "curves"},
          "transform": [{"filter": "datum.p == 'C3'"}],
          "mark": {"type": "line", "interpolate": "monotone", "color": "#231f20", "strokeWidth": 2},
          "encoding": {
            "x": {"field": "x", "type": "quantitative", "scale": {"domain": [0, 600], "range": [80, 459], "nice": false, "zero": false},
              "axis": {"orient": "top", "offset": -814, "values": [0,100,200,300,400,500,600], "grid": true, "gridColor": "#d9d9d9", "gridWidth": 1.5, "domain": true, "domainColor": "#d0d0d0", "domainWidth": 1.5,
                "labelFont": "Open Sans", "labelFontSize": 15, "labelPadding": -7, "labelBaseline": "top", "labelColor": "#333333",
                "title": "grain size (μm)", "titleFontSize": 28, "titleX": 265, "titleY": 57, "titleAlign": "center", "titleBaseline": "alphabetic", "titleAngle": 0}},
            "y": {"field": "y", "type": "quantitative", "scale": {"domain": [0, 20], "range": [814, 619], "nice": false, "zero": false},
              "axis": {"orient": "left", "offset": -80, "values": [0,10,20], "labelFont": "Open Sans", "labelFontSize": 15, "labelPadding": 6, "labelColor": "#333333",
                "title": "non-amalgamated HCS", "titleFontSize": 29, "titleX": 193, "titleY": 602, "titleAngle": 0, "titleAlign": "center", "titleBaseline": "alphabetic"}},
            "detail": {"field": "id", "type": "nominal"}
          }
        },
        {
          "data": {"values": [{"letter": "C"}]},
          "mark": {"type": "point", "size": 0, "color": "#231f20", "filled": false, "opacity": 1, "strokeWidth": 2.5},
          "encoding": {
            "shape": {"field": "letter", "type": "nominal", "scale": {"domain": ["C"], "range": ["square"]},
              "legend": {"orient": "none", "legendX": -2, "legendY": -3, "title": null, "padding": 0, "symbolSize": 4356, "symbolStrokeWidth": 2.5, "symbolStrokeColor": "#231f20", "symbolFillColor": "white", "symbolType": "square", "labelFontSize": 54, "labelFont": "Liberation Sans", "labelColor": "#231f20", "labelAlign": "center", "labelOffset": -34.5, "labelLimit": 0}}
          }
        }
      ]
    }
  ]
}
